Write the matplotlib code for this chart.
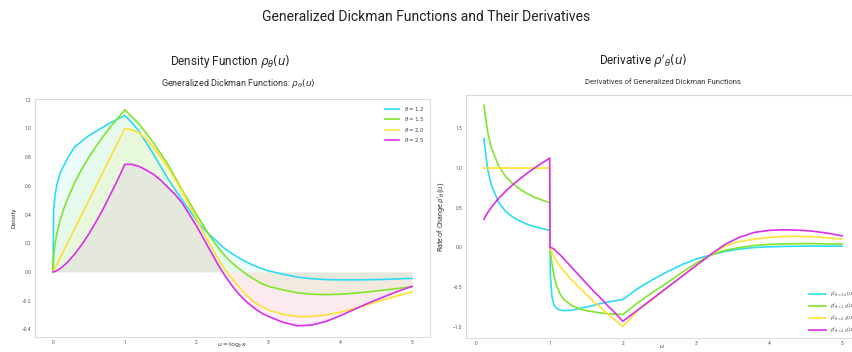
import matplotlib
matplotlib.use("Agg")
import matplotlib.pyplot as plt

plt.rcParams['font.family'] = ['Roboto', 'DejaVu Sans']

thetas = ["1.2", "1.5", "2.0", "2.5"]
colors = ["#2ddcf2", "#80e52c", "#ffe135", "#d92fe6"]

# density curves rho_theta(u)
u_rho = [0, 0.01, 0.03, 0.06, 0.1, 0.15, 0.2, 0.3, 0.4, 0.5, 0.6, 0.7, 0.8, 0.9, 1.0,
         1.1, 1.2, 1.3, 1.4, 1.5, 1.6, 1.7, 1.8, 1.9, 2.0,
         2.1, 2.2, 2.3, 2.4, 2.5, 2.6, 2.7, 2.8, 2.9, 3.0,
         3.2, 3.4, 3.6, 3.8, 4.0, 4.2, 4.4, 4.6, 4.8, 5.0]
rho_12 = [0, 0.44, 0.54, 0.62, 0.69, 0.74, 0.79, 0.87, 0.91, 0.95, 0.98, 1.01, 1.04, 1.065, 1.09,
          1.04, 0.98, 0.90, 0.82, 0.735, 0.65, 0.575, 0.50, 0.43, 0.36,
          0.30, 0.25, 0.205, 0.16, 0.125, 0.095, 0.068, 0.045, 0.025, 0.008,
          -0.015, -0.035, -0.047, -0.053, -0.055, -0.055, -0.054, -0.052, -0.048, -0.045]
rho_15 = [0, 0.11, 0.20, 0.28, 0.36, 0.44, 0.505, 0.62, 0.715, 0.80, 0.875, 0.945, 1.01, 1.07, 1.13,
          1.08, 1.03, 0.965, 0.90, 0.825, 0.75, 0.66, 0.57, 0.485, 0.40,
          0.32, 0.24, 0.17, 0.11, 0.06, 0.02, -0.02, -0.05, -0.08, -0.10,
          -0.125, -0.145, -0.155, -0.158, -0.155, -0.148, -0.138, -0.127, -0.115, -0.103]
rho_20 = [0, 0.01, 0.03, 0.06, 0.10, 0.15, 0.20, 0.30, 0.40, 0.50, 0.60, 0.70, 0.80, 0.90, 1.00,
          0.99, 0.97, 0.925, 0.87, 0.80, 0.73, 0.645, 0.56, 0.465, 0.37,
          0.27, 0.18, 0.09, 0.014, -0.05, -0.11, -0.165, -0.21, -0.24, -0.265,
          -0.295, -0.31, -0.31, -0.30, -0.28, -0.255, -0.225, -0.195, -0.165, -0.14]
rho_25 = [0, 0.001, 0.004, 0.011, 0.024, 0.044, 0.067, 0.123, 0.19, 0.265, 0.35, 0.44, 0.54, 0.64, 0.75,
          0.75, 0.735, 0.71, 0.68, 0.64, 0.59, 0.54, 0.48, 0.40, 0.32,
          0.23, 0.14, 0.05, -0.03, -0.10, -0.16, -0.21, -0.25, -0.285, -0.31,
          -0.35, -0.375, -0.37, -0.345, -0.305, -0.26, -0.215, -0.175, -0.135, -0.10]

# derivatives rho'_theta(u)
u_drv = [0.1, 0.15, 0.2, 0.3, 0.4, 0.5, 0.6, 0.7, 0.8, 0.9, 1.0,
         1.005, 1.01, 1.03, 1.06, 1.1, 1.15, 1.2, 1.3, 1.4, 1.5, 1.6, 1.7, 1.8, 1.9, 2.0,
         2.2, 2.4, 2.6, 2.8, 3.0, 3.2, 3.4, 3.6, 3.8, 4.0, 4.2, 4.4, 4.6, 4.8, 5.0]
drv_12 = [1.37, 0.99, 0.79, 0.57, 0.45, 0.38, 0.33, 0.29, 0.26, 0.237, 0.218,
          0.0, -0.35, -0.62, -0.73, -0.77, -0.79, -0.795, -0.79, -0.77, -0.75, -0.73, -0.705, -0.685, -0.67, -0.655,
          -0.52, -0.41, -0.31, -0.22, -0.147, -0.095, -0.05, -0.02, 0.0, 0.008, 0.013, 0.016, 0.017, 0.017, 0.017]
drv_15 = [1.79, 1.46, 1.26, 1.03, 0.89, 0.80, 0.73, 0.675, 0.63, 0.595, 0.565,
          0.0, -0.06, -0.20, -0.36, -0.50, -0.60, -0.66, -0.73, -0.77, -0.795, -0.81, -0.825, -0.835, -0.84, -0.845,
          -0.70, -0.57, -0.45, -0.32, -0.20, -0.097, -0.035, 0.0, 0.025, 0.038, 0.045, 0.048, 0.048, 0.045, 0.042]
drv_20 = [1.0, 1.0, 1.0, 1.0, 1.0, 1.0, 1.0, 1.0, 1.0, 1.0, 1.0,
          0.0, -0.02, -0.06, -0.12, -0.18, -0.25, -0.30, -0.41, -0.50, -0.59, -0.68, -0.76, -0.84, -0.92, -0.995,
          -0.80, -0.66, -0.51, -0.37, -0.23, -0.095, 0.02, 0.075, 0.105, 0.125, 0.138, 0.142, 0.135, 0.12, 0.105]
drv_25 = [0.356, 0.436, 0.503, 0.616, 0.71, 0.795, 0.87, 0.94, 1.006, 1.067, 1.125,
          0.0, -0.002, -0.005, -0.02, -0.06, -0.10, -0.15, -0.25, -0.35, -0.45, -0.55, -0.64, -0.74, -0.83, -0.93,
          -0.79, -0.65, -0.51, -0.37, -0.23, -0.09, 0.04, 0.13, 0.19, 0.215, 0.223, 0.218, 0.205, 0.18, 0.147]

rho_all = [rho_12, rho_15, rho_20, rho_25]
drv_all = [drv_12, drv_15, drv_20, drv_25]

fig = plt.figure(figsize=(8.52, 3.52), dpi=100)
W, H = 852, 352


def px_axes(x0, y0, x1, y1):
    # box given in picture pixels, top-left origin
    return fig.add_axes([x0 / W, 1 - y1 / H, (x1 - x0) / W, (y1 - y0) / H])


def style(ax):
    for s in ax.spines.values():
        s.set_color("#dcdcdc")
        s.set_linewidth(0.8)
    ax.tick_params(length=0, labelsize=3.5, labelcolor="#555555", pad=2.5)
    ax.set_facecolor("white")


# left panel: densities
ax1 = px_axes(35, 99, 430, 337)
style(ax1)
for th, y, c in zip(thetas, rho_all, colors):
    ax1.plot(u_rho, y, color=c, lw=1.2, label=r"$\theta = %s$" % th)
    ax1.fill_between(u_rho, 0, y, color=c, alpha=0.08, lw=0)
ax1.set_xlim(-0.25, 5.25)
ax1.set_ylim(-0.453, 1.205)
ax1.set_yticks([-0.4, -0.2, 0.0, 0.2, 0.4, 0.6, 0.8, 1.0, 1.2])
ax1.set_xticks([0, 1, 2, 3, 4, 5])
ax1.set_ylabel("Density", fontsize=4.5, color="#333333", labelpad=4)
ax1.set_xlabel(r"$u = \log_y x$", fontsize=4.5, color="#333333", va="center")
ax1.xaxis.set_label_coords(0.5, -(346 - 337) / 238)
leg1 = ax1.legend(loc="upper right", fontsize=4, frameon=False, handlelength=2.6,
                  labelspacing=0.45, borderaxespad=0.6)
for t in leg1.get_texts():
    t.set_color("#444444")

# right panel: derivatives (runs off the right edge of the picture)
ax2 = px_axes(466, 95, 860, 338)
style(ax2)
for th, y, c in zip(thetas, drv_all, colors):
    ax2.plot(u_drv, y, color=c, lw=1.2, label=r"$\rho'_{\theta=%s}(u)$" % th)
ax2.set_xlim(-0.145, 5.245)
ax2.set_ylim(-1.14, 1.92)
ax2.set_yticks([-1.0, -0.5, 0.0, 0.5, 1.0, 1.5])
ax2.set_xticks([0, 1, 2, 3, 4, 5])
ax2.set_ylabel(r"Rate of Change $\rho'_\theta(u)$", fontsize=5, color="#333333", labelpad=4)
ax2.set_xlabel(r"$u$", fontsize=4.5, color="#333333", va="center")
ax2.xaxis.set_label_coords((662 - 466) / 394, -(346 - 338) / 243)
leg2 = ax2.legend(loc="lower right", fontsize=3.5, frameon=False, handlelength=3.4,
                  labelspacing=0.55, borderaxespad=0.3, bbox_to_anchor=(0.995, 0.0))
for t in leg2.get_texts():
    t.set_color("#444444")

# titles
fig.text(0.5, 1 - 17 / H, "Generalized Dickman Functions and Their Derivatives",
         ha="center", va="center", fontsize=10, color="#222222")
fig.text(230 / W, 1 - 61 / H, r"Density Function $\rho_\theta(u)$",
         ha="center", va="center", fontsize=8.5, color="#222222")
fig.text(643 / W, 1 - 61 / H, r"Derivative $\rho'_\theta(u)$",
         ha="center", va="center", fontsize=8.5, color="#222222")
fig.text(238 / W, 1 - 84 / H, r"Generalized Dickman Functions: $\rho_\theta(u)$",
         ha="center", va="center", fontsize=6.5, color="#333333")
fig.text(663 / W, 1 - 82 / H, "Derivatives of Generalized Dickman Functions",
         ha="center", va="center", fontsize=5.5, color="#333333")

fig.savefig("out.png", dpi=100)
